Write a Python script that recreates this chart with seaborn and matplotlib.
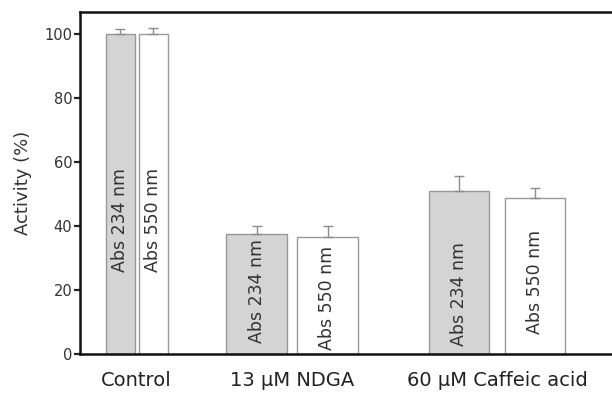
import matplotlib
matplotlib.use("Agg")
import numpy as np
import pandas as pd
import matplotlib.pyplot as plt
import seaborn as sns

# data
conditions = ["Control", "13 \u03bcM NDGA", "60 \u03bcM Caffeic acid"]
wavelengths = ["Abs 234 nm", "Abs 550 nm"]
activity_234 = [100.0, 37.6, 50.8]
activity_550 = [100.0, 36.7, 48.7]
err_234 = [1.5, 2.4, 4.7]
err_550 = [2.0, 3.3, 3.2]

# layout (x axis runs in pixel-like units across the plot area)
group_centers = [56.5, 212, 417]
bar_widths = [29, 61, 60]
bar_gaps = [4, 10, 16]
label_y = [[42, 42], [19.7, 17.6], [18.9, 22.6]]
fills = ["#d4d4d4", "#ffffff"]

df = pd.DataFrame({
    "condition": conditions * 2,
    "wavelength": [wavelengths[0]] * 3 + [wavelengths[1]] * 3,
    "activity": activity_234 + activity_550,
})
errs = [err_234, err_550]

sns.set_style("ticks")
plt.rcParams["font.family"] = ["DejaVu Sans"]

fig = plt.figure(figsize=(6.12, 3.93), dpi=100)
ax = fig.add_axes([80 / 612, 1 - 354 / 393, 532 / 612, 342 / 393])

sns.barplot(data=df, x="condition", y="activity", hue="wavelength",
            palette=fills, errorbar=None, legend=False, ax=ax,
            edgecolor="#999999", linewidth=1.0)

bar_containers = list(ax.containers)
for j, cont in enumerate(bar_containers):
    for i, bar in enumerate(cont):
        w = bar_widths[i]
        off = (w + bar_gaps[i]) / 2
        xc = group_centers[i] + (off if j == 1 else -off)
        bar.set_x(xc - w / 2)
        bar.set_width(w)
        h = bar.get_height()
        ax.errorbar(xc, h, yerr=[[0], [errs[j][i]]], fmt="none",
                    ecolor="#8c8c8c", elinewidth=1.0, capsize=3.3,
                    capthick=1.0, zorder=1)
        ax.text(xc, label_y[i][j], wavelengths[j], rotation=90,
                ha="center", va="center", fontsize=12.5, color="#333333")

ax.set_xlim(0, 532)
ax.set_ylim(0, 106.9)
ax.set_xticks(group_centers)
ax.set_xticklabels(conditions, fontsize=14, color="#222222")
ax.set_yticks([0, 20, 40, 60, 80, 100])
ax.tick_params(axis="y", labelsize=10.5, labelcolor="#333333",
               length=4.5, width=1.6, direction="out", pad=1)
ax.tick_params(axis="x", length=0, pad=12)
ax.set_xlabel("")
ax.set_ylabel("Activity (%)", fontsize=13, color="#333333", labelpad=9)

for side in ["left", "bottom", "top"]:
    ax.spines[side].set_linewidth(1.8)
    ax.spines[side].set_color("#111111")
ax.spines["right"].set_visible(False)

fig.savefig("out.png", dpi=100)
